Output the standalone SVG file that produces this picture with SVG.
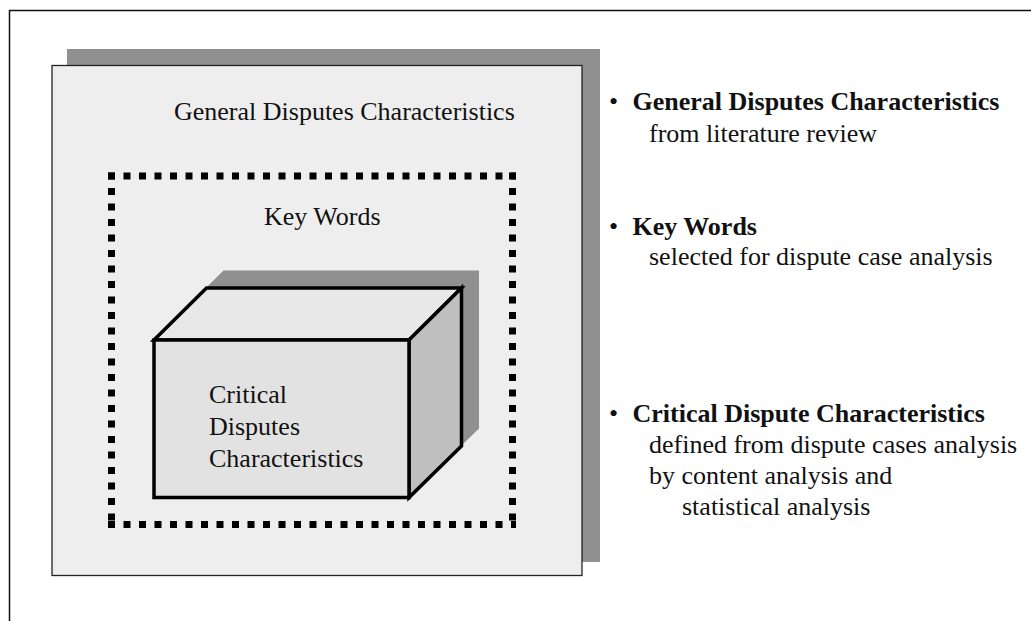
<svg xmlns="http://www.w3.org/2000/svg" width="1031" height="621" viewBox="0 0 1031 621">
  <style>
    text { font-family: "Liberation Serif", "Times New Roman", serif; font-size: 26px; fill: #111; }
    .b { font-weight: bold; }
    .shadow { fill: #909090; }
    .edge { stroke: #000; stroke-width: 3.5; stroke-linejoin: miter; }
    .dots { fill: none; stroke: #000; stroke-width: 7; stroke-dasharray: 7 8.5; }
  </style>

  <rect width="1031" height="621" fill="#fff"/>

  <!-- page frame, running off the right and bottom -->
  <rect id="frame" x="9.5" y="10.5" width="1040" height="630" fill="none" stroke="#111" stroke-width="1.5"/>

  <!-- outer layer: general characteristics -->
  <g id="general">
    <rect class="shadow" x="67" y="49" width="533" height="513"/>
    <rect x="52" y="65.5" width="530" height="510" fill="#eeeeee" stroke="#222" stroke-width="1.3"/>
    <text x="174" y="120">General Disputes Characteristics</text>
  </g>

  <!-- middle layer: key words -->
  <g id="keywords">
    <line class="dots" x1="108" y1="176" x2="516" y2="176"/>
    <line class="dots" x1="512.5" y1="172.5" x2="512.5" y2="528"/>
    <line class="dots" x1="111.5" y1="172.5" x2="111.5" y2="528"/>
    <line class="dots" x1="108" y1="524.5" x2="516" y2="524.5"/>
    <text x="264" y="225">Key Words</text>
  </g>

  <!-- inner layer: the cube -->
  <g id="critical">
    <polygon class="shadow" points="171,322.5 223.5,270.5 479,270.5 479,428.5 426,480 171,480"/>
    <polygon class="edge" fill="#e8e8e8" points="154,340 206.5,288 461.5,288 409,340"/>
    <polygon class="edge" fill="#bfbfbf" points="409,340 461.5,288 461.5,446 409,497.5"/>
    <rect class="edge" fill="#e2e2e2" x="154" y="340" width="255" height="157.5"/>
    <text x="209" y="403">Critical</text>
    <text x="209" y="435">Disputes</text>
    <text x="209" y="466.5">Characteristics</text>
  </g>

  <!-- legend -->
  <g id="legend-general">
    <text x="609" y="110">•</text>
    <text class="b" x="632.5" y="110">General Disputes Characteristics</text>
    <text x="649" y="141.5">from literature review</text>
  </g>
  <g id="legend-keywords">
    <text x="609" y="235">•</text>
    <text class="b" x="632.5" y="235">Key Words</text>
    <text x="649" y="265">selected for dispute case analysis</text>
  </g>
  <g id="legend-critical">
    <text x="609" y="421.5">•</text>
    <text class="b" x="632.5" y="421.5">Critical Dispute Characteristics</text>
    <text x="649" y="453">defined from dispute cases analysis</text>
    <text x="649" y="483.5">by content analysis and</text>
    <text x="682" y="515">statistical analysis</text>
  </g>
</svg>
